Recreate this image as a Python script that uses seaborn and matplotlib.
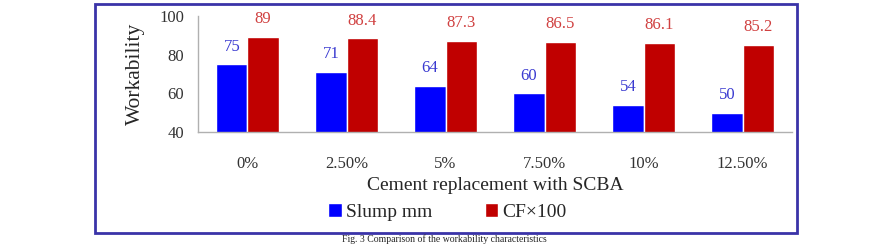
import numpy as np
import pandas as pd
import seaborn as sns
import matplotlib.pyplot as plt
from matplotlib.patches import Rectangle

# data
categories = ["0%", "2.50%", "5%", "7.50%", "10%", "12.50%"]
slump_mm = [75, 71, 64, 60, 54, 50]
cf_x100 = [89, 88.4, 87.3, 86.5, 86.1, 85.2]
series_names = ["Slump mm", "CF\u00d7100"]
label_text = ["75", "71", "64", "60", "54", "50"]
label_text_cf = ["89", "88.4", "87.3", "86.5", "86.1", "85.2"]

df = pd.DataFrame({
    "cat": categories * 2,
    "val": slump_mm + cf_x100,
    "series": [series_names[0]] * len(categories) + [series_names[1]] * len(categories),
})

sns.set_theme(style="white")
plt.rcParams["font.family"] = ["Liberation Serif", "DejaVu Serif"]

fig = plt.figure(figsize=(8.89, 2.45), dpi=100)
ax = fig.add_axes([0.2227, 0.461, 0.891 - 0.2227, 0.935 - 0.461])

sns.barplot(data=df, x="cat", y="val", hue="series", order=categories,
            palette=["#0000ff", "#c00000"], width=0.63, saturation=1,
            gap=0, ax=ax, legend=True)

ax.set_ylim(40, 100)
ax.set_xlim(-0.5, 5.5)
ax.set_yticks([40, 60, 80, 100])
ax.tick_params(axis="both", length=0, labelsize=12, colors="#333333")
ax.tick_params(axis="x", pad=17)
ax.tick_params(axis="y", pad=10)
for s in ["top", "right"]:
    ax.spines[s].set_visible(False)
for s in ["left", "bottom"]:
    ax.spines[s].set_color("#b0b0b0")
    ax.spines[s].set_linewidth(1)

ax.set_ylabel("Workability", fontsize=15.5, labelpad=10)
ax.set_xlabel("Cement replacement with SCBA", fontsize=14, labelpad=4)

# value labels
ax.bar_label(ax.containers[0], labels=label_text, padding=7, fontsize=12, color="#3a3ad0")
ax.bar_label(ax.containers[1], labels=label_text_cf, padding=7, fontsize=12, color="#d04040")

leg = ax.legend(loc="upper center", bbox_to_anchor=(0.42, -0.53), ncol=2,
                frameon=False, fontsize=14, handlelength=0.7, handleheight=0.7,
                handletextpad=0.2, columnspacing=2.7, borderpad=0)

# frame around the chart
fig.patches.append(Rectangle((95 / 889, 1 - 233 / 245), (797 - 95) / 889, (233 - 4) / 245,
                             transform=fig.transFigure, fill=False,
                             edgecolor="#3a33a8", linewidth=2))

# caption below the frame
fig.text(0.5, 1 - 234.5 / 245, "Fig. 3 Comparison of the workability characteristics",
         ha="center", va="top", fontsize=7)

fig.savefig("out.png", dpi=100)
